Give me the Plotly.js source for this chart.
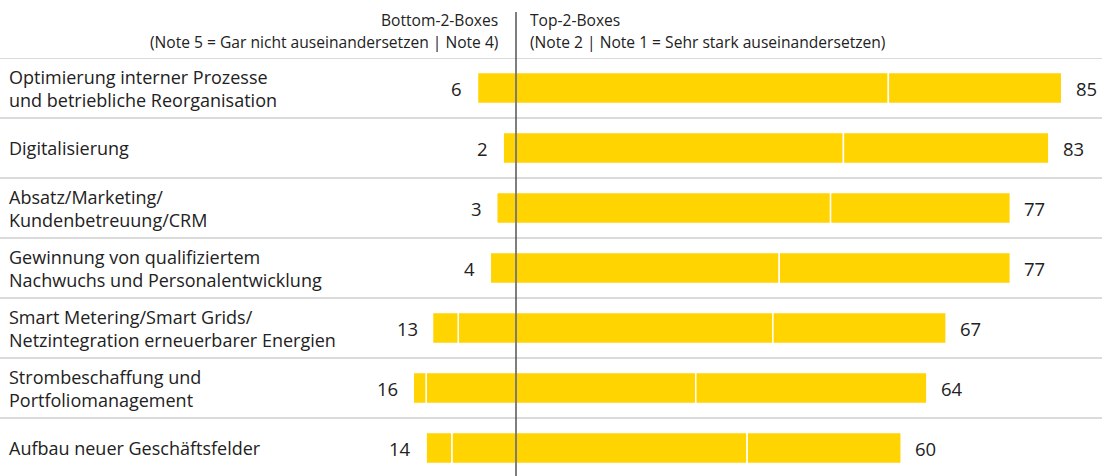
<!DOCTYPE html>
<html>
<head>
<meta charset="utf-8">
<script src="https://cdn.plot.ly/plotly-3.0.1.min.js"></script>
<style>html,body{margin:0;padding:0;background:#fff;}#chart{width:1102px;height:476px;}</style>
</head>
<body>
<div id="chart"></div>
<script>
// Data
const categories = [
  "Optimierung interner Prozesse<br>und betriebliche Reorganisation",
  "Digitalisierung",
  "Absatz/Marketing/<br>Kundenbetreuung/CRM",
  "Gewinnung von qualifiziertem<br>Nachwuchs und Personalentwicklung",
  "Smart Metering/Smart Grids/<br>Netzintegration erneuerbarer Energien",
  "Strombeschaffung und<br>Portfoliomanagement",
  "Aufbau neuer Geschäftsfelder"
];
const note4 = [6, 2, 3, 4, 9, 14, 10];   // inner left
const note5 = [0, 0, 0, 0, 4, 2, 4];     // outer left
const note2 = [58, 51, 49, 41, 40, 28, 36]; // inner right
const note1 = [27, 32, 28, 36, 27, 36, 24]; // outer right
const bottom2 = [6, 2, 3, 4, 13, 16, 14];
const top2 = [85, 83, 77, 77, 67, 64, 60];

const headerLeft = ["Bottom-2-Boxes", "(Note 5 = Gar nicht auseinandersetzen | Note 4)"];
const headerRight = ["Top-2-Boxes", "(Note 2 | Note 1 = Sehr stark auseinandersetzen)"];

const YELLOW = "#FFD400";
const FONT = "'Open Sans', Roboto, sans-serif";
const TXT = "#222222";
const idx = categories.map((_, i) => i);

function barTrace(vals, sign, name) {
  return {
    type: "bar", orientation: "h", name: name,
    x: vals.map(v => sign * v), y: idx,
    width: 0.515,
    marker: {color: YELLOW, line: {color: "#ffffff", width: 1.5}},
    hoverinfo: "skip", showlegend: false
  };
}

const data = [
  barTrace(note4, -1, "Note 4"),
  barTrace(note5, -1, "Note 5"),
  barTrace(note2, 1, "Note 2"),
  barTrace(note1, 1, "Note 1")
];

const W = 1102, H = 476, plotTop = 58;
const center = 516, pxPerUnit = 6.42;
const xr = [-center / pxPerUnit, (W - center) / pxPerUnit];
const rowH = 60;
const yBottom = -0.5 + (H - plotTop) / rowH;
function py(p) { return 1 + (plotTop - p) / (H - plotTop); }

const annotations = [];
categories.forEach((c, i) => {
  annotations.push({xref: "paper", yref: "y", x: 0, y: i, xanchor: "left", yanchor: "middle",
    xshift: 7, text: c, align: "left", showarrow: false, font: {family: FONT, size: 18, color: TXT}});
  annotations.push({xref: "x", yref: "y", x: -bottom2[i], y: i, xanchor: "right", yanchor: "middle",
    xshift: -13, text: String(bottom2[i]), showarrow: false, font: {family: FONT, size: 18.5, color: TXT}});
  annotations.push({xref: "x", yref: "y", x: top2[i], y: i, xanchor: "left", yanchor: "middle",
    xshift: 12, text: String(top2[i]), showarrow: false, font: {family: FONT, size: 18.5, color: TXT}});
});
headerLeft.forEach((t, k) => {
  annotations.push({xref: "x", yref: "paper", x: 0, y: py(k === 0 ? 20 : 42), xanchor: "right", yanchor: "middle",
    xshift: -16, text: t, showarrow: false, font: {family: FONT, size: 15.6, color: TXT}});
});
headerRight.forEach((t, k) => {
  annotations.push({xref: "x", yref: "paper", x: 0, y: py(k === 0 ? 20 : 42), xanchor: "left", yanchor: "middle",
    xshift: 12, text: t, showarrow: false, font: {family: FONT, size: 15.6, color: TXT}});
});

const shapes = [];
for (let i = 0; i < categories.length; i++) {
  shapes.push({type: "line", xref: "paper", yref: "y", x0: 0, x1: 1, y0: i - 0.5, y1: i - 0.5,
    line: {color: "#cfcfcf", width: 1.5}, layer: "below"});
}
shapes.push({type: "line", xref: "x", yref: "paper", x0: 0, x1: 0, y0: 0, y1: py(12),
  line: {color: "#3a3a3a", width: 1.3}});

const layout = {
  width: W, height: H,
  margin: {l: 0, r: 0, t: plotTop, b: 0, pad: 0},
  paper_bgcolor: "#fff", plot_bgcolor: "#fff",
  barmode: "relative", bargap: 0,
  xaxis: {range: xr, visible: false, fixedrange: true, zeroline: false, showgrid: false},
  yaxis: {range: [yBottom, -0.5], visible: false, fixedrange: true, zeroline: false, showgrid: false},
  annotations: annotations,
  shapes: shapes,
  showlegend: false
};

Plotly.newPlot("chart", data, layout, {displayModeBar: false, staticPlot: true});
</script>
</body>
</html>
